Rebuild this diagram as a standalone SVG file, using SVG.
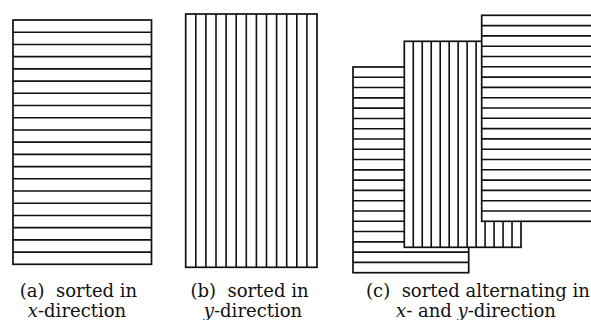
<svg xmlns="http://www.w3.org/2000/svg" width="591" height="320" viewBox="0 0 591 320">
<style>
.box{fill:#fff;stroke:#111;stroke-width:1.7}
.ln{fill:none;stroke:#111;stroke-width:1.6}
.cap{font-family:"DejaVu Serif","Liberation Serif",serif;font-size:18px;fill:#111;text-anchor:middle;white-space:pre}
.it{font-style:italic}
</style>
<g id="panel-a">
<rect class="box" x="13" y="20" width="138.5" height="244.3"/>
<path class="ln" d="M13 32.22H151.5M13 44.43H151.5M13 56.65H151.5M13 68.86H151.5M13 81.08H151.5M13 93.29H151.5M13 105.51H151.5M13 117.72H151.5M13 129.94H151.5M13 142.15H151.5M13 154.37H151.5M13 166.58H151.5M13 178.8H151.5M13 191.01H151.5M13 203.23H151.5M13 215.44H151.5M13 227.66H151.5M13 239.87H151.5M13 252.09H151.5"/>
<text class="cap" x="78.5" y="296.5" xml:space="preserve">(a)  sorted in</text>
<text class="cap" x="77" y="316.5"><tspan class="it">x</tspan>-direction</text>
</g>
<g id="panel-b">
<rect class="box" x="185.7" y="14" width="131.3" height="253.3"/>
<path class="ln" d="M195.8 14V267.3M205.9 14V267.3M216 14V267.3M226.1 14V267.3M236.2 14V267.3M246.3 14V267.3M256.4 14V267.3M266.5 14V267.3M276.6 14V267.3M286.7 14V267.3M296.8 14V267.3M306.9 14V267.3"/>
<text class="cap" x="249.5" y="296.5" xml:space="preserve">(b)  sorted in</text>
<text class="cap" x="253" y="316.5"><tspan class="it">y</tspan>-direction</text>
</g>
<g id="panel-c">
<g id="c-block1">
<rect class="box" x="353" y="67" width="115.7" height="205.7"/>
<path class="ln" d="M353 77.29H468.7M353 87.57H468.7M353 97.86H468.7M353 108.14H468.7M353 118.43H468.7M353 128.71H468.7M353 139H468.7M353 149.28H468.7M353 159.57H468.7M353 169.85H468.7M353 180.14H468.7M353 190.42H468.7M353 200.71H468.7M353 210.99H468.7M353 221.28H468.7M353 231.56H468.7M353 241.85H468.7M353 252.13H468.7M353 262.42H468.7"/>
</g>
<g id="c-block2">
<rect class="box" x="404.3" y="41.3" width="116.7" height="206"/>
<path class="ln" d="M413.28 41.3V247.3M422.25 41.3V247.3M431.23 41.3V247.3M440.21 41.3V247.3M449.19 41.3V247.3M458.16 41.3V247.3M467.14 41.3V247.3M476.12 41.3V247.3M485.09 41.3V247.3M494.07 41.3V247.3M503.05 41.3V247.3M512.02 41.3V247.3"/>
</g>
<g id="c-block3">
<rect class="box" x="481.7" y="15.3" width="118" height="206"/>
<path class="ln" d="M481.7 25.6H600M481.7 35.9H600M481.7 46.2H600M481.7 56.5H600M481.7 66.8H600M481.7 77.1H600M481.7 87.4H600M481.7 97.7H600M481.7 108H600M481.7 118.3H600M481.7 128.6H600M481.7 138.9H600M481.7 149.2H600M481.7 159.5H600M481.7 169.8H600M481.7 180.1H600M481.7 190.4H600M481.7 200.7H600M481.7 211H600"/>
</g>
<text class="cap" x="478" y="296.5" xml:space="preserve">(c)  sorted alternating in</text>
<text class="cap" x="476" y="316.5"><tspan class="it">x</tspan>- and <tspan class="it">y</tspan>-direction</text>
</g>
<g id="connectors"/>
</svg>
